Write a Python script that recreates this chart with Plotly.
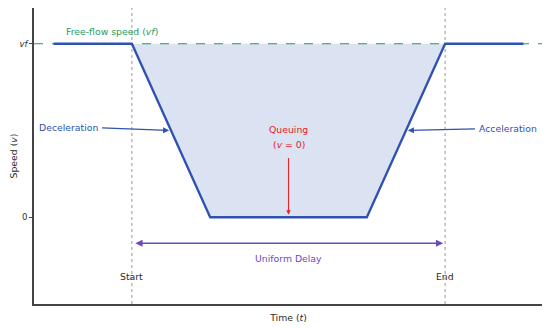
import plotly.graph_objects as go

# Data
time_pts = [0, 2, 4, 8, 10, 12]
speed_pts = [1, 1, 0, 0, 1, 1]
fill_t = [2, 4, 8, 10]
fill_v = [1, 0, 0, 1]
vf = 1.0
t_start = 2
t_end = 10
y_ticks = [0, 1]
y_ticktext = ["0", "<i>vf</i>"]

BLUE = "#2f52b0"
GREEN = "#1f9a60"
RED = "#e8202a"
PURPLE = "#6a4cb8"
GRAY = "#999999"
DARK = "#2b2b2b"
FONT = "DejaVu Sans"
FS = 9.3

fig = go.Figure()

fig.add_trace(go.Scatter(x=fill_t, y=fill_v, fill="toself", fillcolor="rgba(190,202,230,0.55)",
                         line=dict(width=0), mode="lines", hoverinfo="skip", showlegend=False))
for tv in (t_start, t_end):
    fig.add_trace(go.Scatter(x=[tv, tv], y=[-0.5, 1.21], mode="lines",
                             line=dict(color=GRAY, width=1, dash="dot"), showlegend=False))
fig.add_trace(go.Scatter(x=[-0.5, 12.5], y=[vf, vf], mode="lines",
                         line=dict(color=GREEN, width=1.2, dash="dash"), showlegend=False))
fig.add_trace(go.Scatter(x=time_pts, y=speed_pts, mode="lines",
                         line=dict(color=BLUE, width=2.3), showlegend=False))

ann = []
ann.append(dict(x=1.5, y=1.07, text="Free-flow speed (<i>vf</i>)", showarrow=False,
                font=dict(color=GREEN, size=FS, family=FONT), xref="x", yref="y"))
ann.append(dict(x=2.95, y=0.5, ax=1.2, ay=0.515, axref="x", ayref="y", xref="x", yref="y",
                text="", showarrow=True, arrowhead=2, arrowsize=1, arrowwidth=1.2, arrowcolor=BLUE))
ann.append(dict(x=0.37, y=0.515, text="Deceleration", showarrow=False,
                font=dict(color=BLUE, size=FS, family=FONT)))
ann.append(dict(x=9.05, y=0.5, ax=10.8, ay=0.51, axref="x", ayref="y", xref="x", yref="y",
                text="", showarrow=True, arrowhead=2, arrowsize=1, arrowwidth=1.2, arrowcolor=BLUE))
ann.append(dict(x=11.6, y=0.51, text="Acceleration", showarrow=False,
                font=dict(color=BLUE, size=FS, family=FONT)))
ann.append(dict(x=6, y=0.505, text="Queuing", showarrow=False,
                font=dict(color=RED, size=FS, family=FONT)))
ann.append(dict(x=6, y=0.42, text="(<i>v</i> = 0)", showarrow=False,
                font=dict(color=RED, size=FS, family=FONT)))
ann.append(dict(x=6, y=0.015, ax=6, ay=0.35, axref="x", ayref="y", xref="x", yref="y",
                text="", showarrow=True, arrowhead=2, arrowsize=0.8, arrowwidth=1.1, arrowcolor=RED))
ann.append(dict(x=9.95, y=-0.15, ax=2.05, ay=-0.15, axref="x", ayref="y", xref="x", yref="y",
                text="", showarrow=True, arrowhead=2, startarrowhead=2, arrowside="end+start",
                arrowsize=0.9, startarrowsize=0.9, arrowwidth=1.6, arrowcolor=PURPLE))
ann.append(dict(x=6, y=-0.235, text="Uniform Delay", showarrow=False,
                font=dict(color=PURPLE, size=FS, family=FONT)))
ann.append(dict(x=t_start, y=-0.34, text="Start", showarrow=False,
                font=dict(color=DARK, size=FS, family=FONT)))
ann.append(dict(x=t_end, y=-0.34, text="End", showarrow=False,
                font=dict(color=DARK, size=FS, family=FONT)))

# page body has an 8px default margin, so the figure is sized/offset to compensate
fig.update_layout(
    width=542, height=320,
    margin=dict(l=26, r=7, t=0, b=24),
    plot_bgcolor="white", paper_bgcolor="white",
    font=dict(family=FONT, size=FS, color=DARK),
    annotations=ann,
    xaxis=dict(range=[-0.5, 12.5], showgrid=False, zeroline=False, showticklabels=False,
               ticks="", showline=True, linecolor="#444444", linewidth=1.6, automargin=False,
               title=dict(text="Time (<i>t</i>)", standoff=10, font=dict(size=FS, family=FONT))),
    yaxis=dict(range=[-0.5, 1.206], showgrid=False, zeroline=False, tickmode="array",
               tickvals=y_ticks, ticktext=y_ticktext, ticks="outside", ticklen=3,
               tickcolor="#444444", showline=True, linecolor="#444444", linewidth=1.6,
               tickfont=dict(size=8.5, family=FONT), automargin=False,
               title=dict(text="Speed (<i>v</i>)", standoff=10, font=dict(size=FS, family=FONT))),
)

fig.write_html("out.html")
